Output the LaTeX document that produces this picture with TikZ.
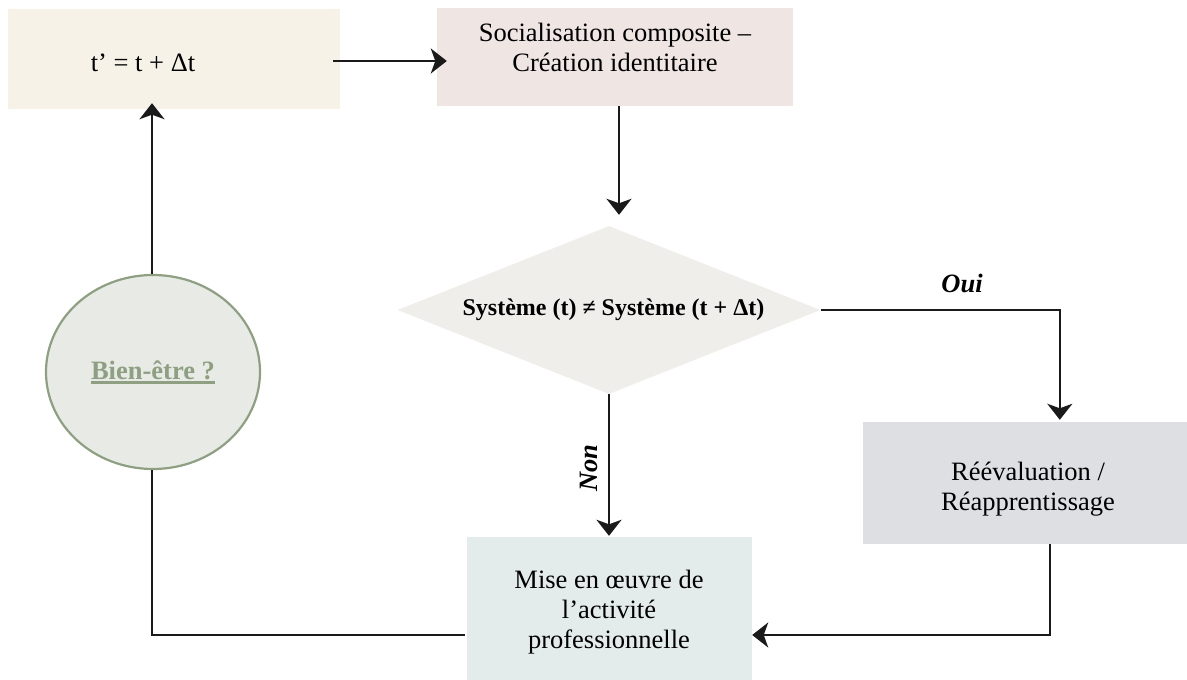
\documentclass[tikz,border=0pt]{standalone}
\usepackage{fontspec}
\setmainfont{Liberation Serif}
\usetikzlibrary{shapes.geometric,arrows.meta,calc}
\definecolor{creamfill}{HTML}{F6F2E8}
\definecolor{rosefill}{HTML}{EFE6E4}
\definecolor{diafill}{HTML}{F0EEEA}
\definecolor{greyfill}{HTML}{DEDFE3}
\definecolor{tealfill}{HTML}{E3ECEA}
\definecolor{circfill}{HTML}{E8EAE6}
\definecolor{sage}{HTML}{8E9F82}
\definecolor{ink}{HTML}{1A1A1A}
\newcommand\myul[1]{\setbox0=\hbox{#1}\leavevmode\rlap{\rule[-4.5pt]{\wd0}{2.2pt}}\box0}
\tikzset{
  boxshape/.style={rectangle, inner sep=0pt, font=\fontsize{26.5}{30}\selectfont, align=center},
  txt/.style={inner sep=0pt, font=\fontsize{26.5}{30}\selectfont, align=center},
  arr/.style={draw=ink, line width=2.5pt, -{Stealth[length=16pt,width=25pt,inset=4.5pt]}},
  plain/.style={draw=ink, line width=2.5pt},
}
\begin{document}
\begin{tikzpicture}[x=1pt,y=-1pt]
\useasboundingbox (0,0) rectangle (1187,680);
% nodes
\node[boxshape, fill=creamfill, minimum width=332, minimum height=100] (b1) at (174,59) {};
\node[txt] (t1) at (143,63) {t’ = t + Δt};
\node[boxshape, fill=rosefill, minimum width=356, minimum height=98] (b2) at (615,57) {};
\node[txt] (t2) at (615,47) {Socialisation composite –\\Création identitaire};
\node[diamond, shape aspect=2.52, fill=diafill, minimum width=423, minimum height=168, inner sep=0pt,
      font=\fontsize{24}{28}\selectfont\bfseries] (dia) at (609,310) {\hspace{9pt}Système (t) ≠ Système (t + Δt)};
\node[boxshape, fill=greyfill, minimum width=324, minimum height=122] (b3) at (1025,483) {};
\node[txt] (t3) at (1028,489) {Réévaluation /\\Réapprentissage};
\node[boxshape, fill=tealfill, minimum width=285, minimum height=143] (b4) at (609.5,608.5) {};
\node[txt] (t4) at (609,612) {Mise en œuvre de\\l’activité\\professionnelle};
\node[ellipse, draw=sage, line width=2.2pt, fill=circfill, minimum width=214, minimum height=194, inner sep=0pt,
      text=sage, font=\fontsize{26.5}{30}\selectfont\bfseries] (circ) at (153,372) {\myul{Bien-être ?}};
% connectors
\draw[arr] ($(b1.east)+(-7,2)$) -- ($(b2.west)+(10,4)$);
\draw[arr] ($(b2.south)+(4,0)$) -- ($(dia.north)+(10,-11)$);
\draw[arr] (dia.east) -| ($(b3.north west)+(197,-2)$);
\node[txt, font=\fontsize{26.5}{30}\selectfont\bfseries\itshape] (oui) at (962,283) {Oui};
\draw[arr] (dia.south) -- ($(dia.south |- b4.north)+(0,-1)$);
\node[txt, rotate=90, font=\fontsize{26.5}{30}\selectfont\bfseries\itshape] (non) at (589,468) {Non};
\draw[arr] ($(b3.south west)+(187,0)$) |- ($(b4.east)+(0,26.5)$);
\draw[plain] ($(b4.west)+(-2,26.5)$) -| ($(circ.south)+(-1,0)$);
\draw[arr] ($(circ.north)+(-1,0)$) -- ($(circ.north |- b1.south)+(-1,-6)$);
\end{tikzpicture}
\end{document}
